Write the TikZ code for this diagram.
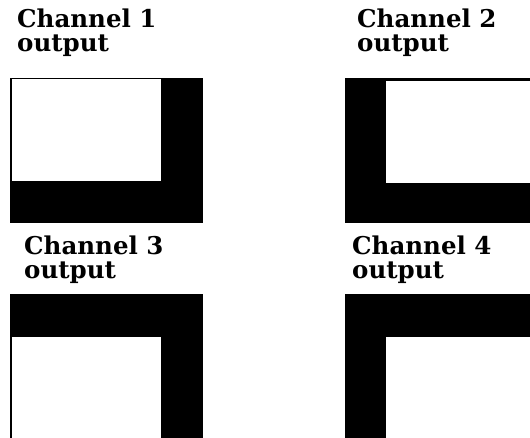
\documentclass[tikz,border=0pt]{standalone}
\usepackage{fontspec}
\setmainfont{DejaVu Serif}
\usetikzlibrary{positioning}

\tikzset{
    chlabel/.style={anchor=north west, inner sep=0pt, align=left,
        font=\fontsize{24.5}{24}\selectfont\bfseries},
    hole/.style={fill=white}
}

\begin{document}
\begin{tikzpicture}[x=1pt, y=-1pt]
    \useasboundingbox (0,0) rectangle (530,438);

    \node[chlabel] (lab1) at (17,9) {Channel 1\\output};
    \node[chlabel] (lab2) at (357,9) {Channel 2\\output};
    \node[chlabel] (lab3) at (24,236) {Channel 3\\output};
    \node[chlabel] (lab4) at (352,236) {Channel 4\\output};

    % channel 1: black on right and bottom
    \fill (10,78) rectangle (203,223);
    \fill[hole] (11.5,79.5) rectangle (161,181);

    % channel 2: black on left and bottom
    \fill (345,78) rectangle (530,223);
    \fill[hole] (386,81) rectangle (530,183);

    % channel 3: black on top and right
    \fill (10,294) rectangle (203,438);
    \fill[hole] (11.5,337) rectangle (161,438);

    % channel 4: black on top and left
    \fill (345,294) rectangle (530,438);
    \fill[hole] (386,337) rectangle (530,438);
\end{tikzpicture}
\end{document}
